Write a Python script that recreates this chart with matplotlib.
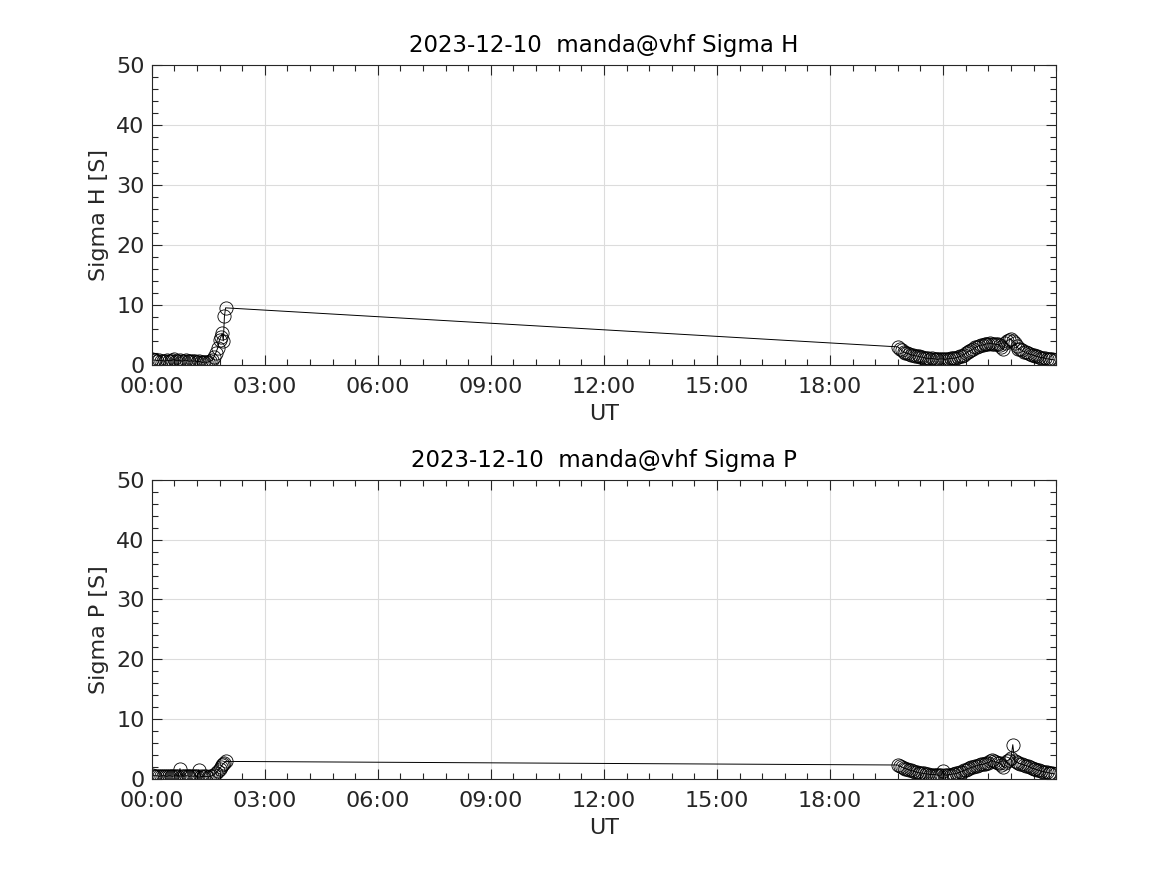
import matplotlib
matplotlib.use("Agg")
import matplotlib.pyplot as plt
from matplotlib.ticker import MultipleLocator

# ---- data (UT hours) ----
t_h_seg1 = [0.00, 0.05, 0.10, 0.15, 0.20, 0.25, 0.30, 0.35, 0.40, 0.45,
            0.50, 0.55, 0.60, 0.65, 0.70, 0.75, 0.80, 0.85, 0.90, 0.95,
            1.00, 1.05, 1.10, 1.15, 1.20, 1.25, 1.30, 1.35, 1.40, 1.45,
            1.50, 1.55, 1.60,
            1.65, 1.70, 1.75, 1.80, 1.84, 1.87, 1.90, 1.93, 1.96]
sigma_h_seg1 = [0.9, 0.8, 0.8, 0.7, 0.8, 0.7, 0.7, 0.6, 0.8, 0.7,
                0.7, 0.8, 0.9, 0.7, 0.7, 0.8, 0.6, 0.7, 0.8, 0.7,
                0.6, 0.7, 0.6, 0.7, 0.5, 0.6, 0.5, 0.4, 0.5, 0.4,
                0.5, 0.6, 0.8,
                1.3, 2.0, 2.8, 4.2, 4.7, 5.3, 4.0, 8.1, 9.5]
sigma_p_seg1 = [0.6, 0.5, 0.5, 0.5, 0.4, 0.5, 0.5, 0.5, 0.4, 0.5,
                0.5, 0.4, 0.5, 0.5, 0.4, 1.7, 0.5, 0.4, 0.5, 0.5,
                0.4, 0.5, 0.4, 0.5, 0.4, 1.5, 0.4, 0.3, 0.4, 0.4,
                0.3, 0.4, 0.5,
                0.7, 1.0, 1.3, 1.7, 2.0, 2.3, 2.5, 2.7, 2.9]

t_h_seg2 = [19.80, 19.85, 19.90, 19.95, 20.00, 20.05, 20.10, 20.15, 20.20, 20.25,
            20.30, 20.35, 20.40, 20.45, 20.50, 20.55, 20.60, 20.65, 20.70, 20.75,
            20.80, 20.85, 20.90, 20.95, 21.00, 21.05, 21.10, 21.15, 21.20, 21.25,
            21.30, 21.35, 21.40, 21.45, 21.50, 21.55, 21.60, 21.65, 21.70, 21.75,
            21.80, 21.85, 21.90, 21.95, 22.00, 22.05, 22.10, 22.15, 22.20, 22.25,
            22.30, 22.35, 22.40, 22.45, 22.50, 22.55, 22.60, 22.65, 22.70, 22.75,
            22.80, 22.85, 22.90, 22.95, 23.00, 23.05, 23.10, 23.15, 23.20, 23.25,
            23.30, 23.35, 23.40, 23.45, 23.50, 23.55, 23.60, 23.65, 23.70, 23.75,
            23.80, 23.85, 23.90, 23.96]
sigma_h_seg2 = [3.0, 2.7, 2.4, 2.2, 2.0, 1.9, 1.8, 1.7, 1.6, 1.5,
                1.5, 1.4, 1.3, 1.3, 1.2, 1.1, 1.1, 1.0, 1.1, 1.0,
                1.0, 0.9, 1.0, 1.0, 1.0, 0.9, 1.0, 1.0, 1.1, 1.1,
                1.1, 1.2, 1.3, 1.4, 1.5, 1.7, 1.9, 2.1, 2.3, 2.5,
                2.7, 2.9, 3.0, 3.2, 3.3, 3.3, 3.4, 3.5, 3.5, 3.6,
                3.5, 3.5, 3.4, 3.4, 3.3, 3.0, 2.6, 3.6, 4.0, 4.2,
                4.3, 4.0, 3.6, 3.1, 2.7, 2.6, 2.4, 2.2, 2.1, 1.9,
                1.8, 1.7, 1.6, 1.5, 1.4, 1.3, 1.2, 1.2, 1.1, 1.0,
                1.0, 0.9, 0.9, 0.8]
sigma_p_seg2 = [2.3, 2.1, 2.0, 1.8, 1.7, 1.6, 1.5, 1.4, 1.3, 1.2,
                1.1, 1.0, 1.0, 0.9, 0.9, 0.8, 0.8, 0.7, 0.7, 0.7,
                0.7, 0.6, 0.6, 0.6, 1.3, 0.6, 0.6, 0.7, 0.7, 0.8,
                0.8, 0.9, 1.0, 1.1, 1.2, 1.4, 1.5, 1.7, 1.8, 1.9,
                2.0, 2.1, 2.2, 2.3, 2.4, 2.4, 2.5, 2.6, 2.7, 2.9,
                3.1, 2.9, 2.8, 2.7, 2.6, 2.3, 1.9, 2.6, 3.0, 3.2,
                3.4, 5.7, 3.0, 2.8, 2.6, 2.5, 2.4, 2.3, 2.2, 2.1,
                2.0, 1.8, 1.7, 1.6, 1.5, 1.4, 1.3, 1.2, 1.1, 1.1,
                1.0, 0.9, 0.9, 0.8]

t_all = t_h_seg1 + t_h_seg2
sigma_h = sigma_h_seg1 + sigma_h_seg2
sigma_p = sigma_p_seg1 + sigma_p_seg2

titles = ["2023-12-10  manda@vhf Sigma H", "2023-12-10  manda@vhf Sigma P"]
ylabels = ["Sigma H [S]", "Sigma P [S]"]
x_ticks = [0, 3, 6, 9, 12, 15, 18, 21]
x_tick_labels = ["00:00", "03:00", "06:00", "09:00", "12:00", "15:00", "18:00", "21:00"]

plt.rcParams['font.family'] = ['DejaVu Sans']
fig = plt.figure(figsize=(11.67, 8.75), dpi=100)

positions = [[0.130, 0.583, 0.775, 0.343], [0.130, 0.110, 0.775, 0.3415]]
series = [sigma_h, sigma_p]
txt = '#262626'

for pos, ys, ttl, yl in zip(positions, series, titles, ylabels):
    ax = fig.add_axes(pos)
    ax.plot(t_all, ys, color='black', linewidth=0.7, marker='o', markersize=9.5,
            markerfacecolor='none', markeredgecolor='black', markeredgewidth=0.6)
    ax.set_xlim(0, 24)
    ax.set_ylim(0, 50)
    ax.set_xticks(x_ticks)
    ax.set_xticklabels(x_tick_labels)
    ax.xaxis.set_minor_locator(MultipleLocator(0.6))
    ax.set_yticks([0, 10, 20, 30, 40, 50])
    ax.yaxis.set_minor_locator(MultipleLocator(2))
    ax.tick_params(which='both', direction='in', top=True, right=True,
                   labelsize=16, colors=txt, labelcolor=txt, width=0.8)
    ax.tick_params(axis='x', which='major', pad=9)
    ax.tick_params(axis='y', which='major', pad=5)
    ax.tick_params(which='major', length=7)
    ax.tick_params(which='minor', length=4)
    ax.grid(True, which='major', color='#dcdcdc', linewidth=0.8)
    ax.set_axisbelow(True)
    for sp in ax.spines.values():
        sp.set_color(txt)
        sp.set_linewidth(0.8)
    ax.set_title(ttl, fontsize=16.5, color='black', pad=9)
    ax.set_xlabel("UT", fontsize=16, color=txt, labelpad=5)
    ax.set_ylabel(yl, fontsize=16, color=txt, labelpad=5)

fig.savefig("out.png", dpi=100, facecolor='white')
